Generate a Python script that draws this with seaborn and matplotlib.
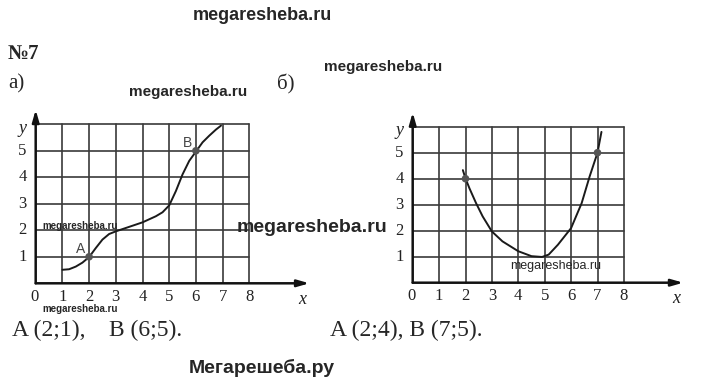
import matplotlib
matplotlib.use("Agg")
import matplotlib.pyplot as plt
import seaborn as sns
import pandas as pd

# ---- data ----
x_ticks = [0, 1, 2, 3, 4, 5, 6, 7, 8]
y_ticks = [1, 2, 3, 4, 5]

curve_a_x = [1.0, 1.25, 1.5, 1.75, 2.0, 2.25, 2.5, 2.75, 3.0, 3.5, 4.0, 4.5, 4.75,
             5.0, 5.25, 5.5, 5.75, 6.0, 6.25, 6.5, 6.75, 6.94]
curve_a_y = [0.51, 0.53, 0.63, 0.78, 0.99, 1.33, 1.65, 1.86, 1.96, 2.13, 2.3, 2.53, 2.68,
             2.94, 3.48, 4.11, 4.62, 4.97, 5.32, 5.57, 5.8, 5.95]
points_a_x = [2, 6]
points_a_y = [1, 5]
points_a_lbl = ["A", "B"]

curve_b_x = [1.9, 2.0, 2.15, 2.4, 2.65, 3.0, 3.4, 4.0, 4.5, 4.9, 5.15, 5.5, 6.0,
             6.4, 6.7, 7.0, 7.15]
curve_b_y = [4.33, 4.01, 3.63, 3.06, 2.55, 1.97, 1.59, 1.21, 1.02, 0.99, 1.08, 1.46, 2.1,
             3.06, 4.08, 5.0, 5.8]
points_b_x = [2, 7]
points_b_y = [4, 5]

answer_a = "A (2;1),    B (6;5)."
answer_b = "A (2;4), B (7;5)."

sns.set_style("white")
plt.rcParams["font.family"] = ["Liberation Serif", "DejaVu Serif"]

W, H = 720, 390
fig = plt.figure(figsize=(W / 100, H / 100), dpi=100)
fig.patch.set_facecolor("white")


def px_axes(x0, ux, y0, uy, xlim=(-1, 10.5), ylim=(-1, 6.8)):
    left = x0 + ux * xlim[0]
    right = x0 + ux * xlim[1]
    bottom = y0 - uy * ylim[0]
    top = y0 - uy * ylim[1]
    ax = fig.add_axes([left / W, 1 - bottom / H, (right - left) / W, (bottom - top) / H])
    ax.set_xlim(*xlim)
    ax.set_ylim(*ylim)
    ax.axis("off")
    return ax


def draw_grid(ax):
    gc = "#3a3a3a"
    for xv in x_ticks[1:]:
        ax.plot([xv, xv], [0, 6], color=gc, lw=1.2, zorder=1)
    for yv in y_ticks + [6]:
        ax.plot([0, 8], [yv, yv], color=gc, lw=1.2, zorder=1)
    ax.annotate("", xy=(0, 6.55), xytext=(0, 0),
                arrowprops=dict(arrowstyle="-|>,head_length=0.7,head_width=0.2",
                                color="#111111", lw=1.8, shrinkA=0, shrinkB=0), zorder=3)
    ax.annotate("", xy=(10.25, 0), xytext=(0, 0),
                arrowprops=dict(arrowstyle="-|>,head_length=0.7,head_width=0.2",
                                color="#111111", lw=1.8, shrinkA=0, shrinkB=0), zorder=3)
    for xv in x_ticks:
        ax.text(xv - (0.05 if xv == 0 else 0), -0.5, str(xv), ha="center", va="center",
                fontsize=12, color="#222222")
    for yv in y_ticks:
        ax.text(-0.5, yv, str(yv), ha="center", va="center", fontsize=12, color="#222222")
    ax.text(10.0, -0.62, "x", ha="center", va="center", fontsize=13,
            style="italic", color="#222222")
    ax.text(-0.5, 5.85, "y", ha="center", va="center", fontsize=13,
            style="italic", color="#222222")


# left plot (a)
ax1 = px_axes(35.7, 26.7, 283.3, 26.5)
draw_grid(ax1)
dfa = pd.DataFrame({"x": curve_a_x, "y": curve_a_y})
sns.lineplot(data=dfa, x="x", y="y", ax=ax1, color="#1a1a1a", lw=1.4, sort=False, zorder=4)
sns.scatterplot(x=points_a_x, y=points_a_y, ax=ax1, color="#555555", s=30,
                edgecolor="none", zorder=5)
for px, py, lb in zip(points_a_x, points_a_y, points_a_lbl):
    ax1.text(px - 0.3, py + 0.28, lb, ha="center", va="center", fontsize=10,
             family="Liberation Sans", color="#444444")
ax1.axis("off")

# right plot (б)
ax2 = px_axes(412.7, 26.4, 282.7, 26.0)
draw_grid(ax2)
dfb = pd.DataFrame({"x": curve_b_x, "y": curve_b_y})
sns.lineplot(data=dfb, x="x", y="y", ax=ax2, color="#1a1a1a", lw=1.4, sort=False, zorder=4)
sns.scatterplot(x=points_b_x, y=points_b_y, ax=ax2, color="#555555", s=30,
                edgecolor="none", zorder=5)
ax2.axis("off")


def ftext(x, y, s, **kw):
    fig.text(x / W, 1 - y / H, s, **kw)


# headings and answers
ftext(262, 16, "megaresheba.ru", ha="center", va="center", fontsize=13,
      family="Liberation Sans", weight="bold")
ftext(8, 54, "№7", ha="left", va="center", fontsize=15, weight="bold")
ftext(8, 84, "а)", ha="left", va="center", fontsize=15)
ftext(277, 84, "б)", ha="left", va="center", fontsize=15)
ftext(12, 330, answer_a, ha="left", va="center", fontsize=17)
ftext(330, 330, answer_b, ha="left", va="center", fontsize=17)
ftext(262, 368, "Мегарешеба.ру", ha="center", va="center", fontsize=14,
      family="Liberation Sans", weight="bold")

# watermarks
ftext(383, 67, "megaresheba.ru", ha="center", va="center", fontsize=11,
      family="Liberation Sans", weight="bold", zorder=10)
ftext(188, 92, "megaresheba.ru", ha="center", va="center", fontsize=11,
      family="Liberation Sans", weight="bold", zorder=10)
ftext(312, 227, "megaresheba.ru", ha="center", va="center", fontsize=14,
      family="Liberation Sans", weight="bold", zorder=10)
ftext(80, 226, "megaresheba.ru", ha="center", va="center", fontsize=7,
      family="Liberation Sans", weight="bold", zorder=10)
ftext(80, 309, "megaresheba.ru", ha="center", va="center", fontsize=7,
      family="Liberation Sans", weight="bold", zorder=10)
ftext(556, 266, "megaresheba.ru", ha="center", va="center", fontsize=9,
      family="Liberation Sans", zorder=10)

fig.savefig("out.png", dpi=100, facecolor="white")
